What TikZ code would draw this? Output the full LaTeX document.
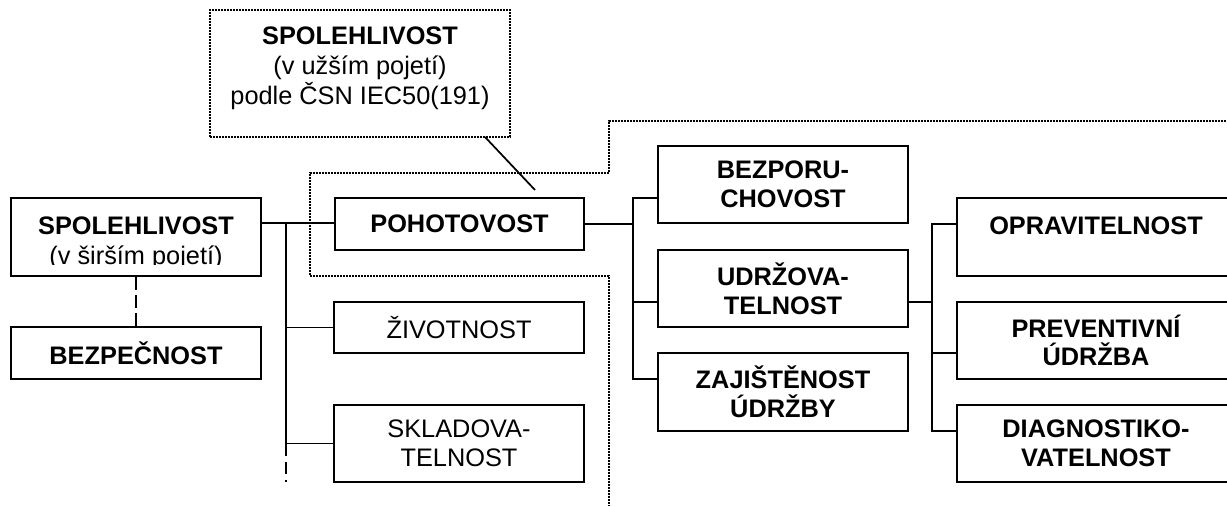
\documentclass[tikz,border=0pt]{standalone}
\usepackage{fontspec}
\setmainfont{Liberation Sans}
\begin{document}
\begin{tikzpicture}[x=0.75pt,y=-0.75pt,
  ln/.style={line width=1.4pt},
  bx/.style={draw,line width=1.4pt,rectangle,inner sep=0pt,font=\fontsize{19}{21.5}\selectfont\bfseries,align=center},
  bxr/.style={bx,font=\fontsize{19}{21.5}\selectfont},
  txt/.style={inner sep=0pt,align=center,font=\fontsize{19}{22.5}\selectfont},
  dotln/.style={line width=1.25pt,dash pattern=on 1.15pt off 1.1pt},
  dashln/.style={line width=1.4pt,dash pattern=on 9.5pt off 4pt}]
\useasboundingbox (0,0) rectangle (1227,506);
\clip (0,0) rectangle (1227,506);

% top dotted box
\node[draw,dotln,rectangle,minimum width=225pt,minimum height=95.25pt,inner sep=0pt] (top) at (360,73.5) {};
\node[txt] (topt) at (360,68.5) {\textbf{SPOLEHLIVOST}\\(v užším pojetí)\\podle ČSN IEC50(191)};

% left column
\node[bx,minimum width=187.5pt,minimum height=58.5pt] (sw) at (136,237) {};
\begin{scope}
\clip (11,198) rectangle (261,264);
\node[txt] (swt) at (136,243.5) {\textbf{SPOLEHLIVOST}\\(v širším pojetí)};
\end{scope}
\node[bx,minimum width=187.5pt,minimum height=39pt] (bez) at (136,353) {BEZPEČNOST};

% second column
\node[bx,minimum width=186.75pt,minimum height=39pt] (poh) at (459.5,224) {POHOTOVOST};
\node[bxr,minimum width=187.5pt,minimum height=38.25pt] (ziv) at (459,327.5) {ŽIVOTNOST};
\node[bxr,minimum width=187.5pt,minimum height=57.75pt] (skl) at (459,443.5) {SKLADOVA-\\TELNOST};

% third column
\node[bx,minimum width=187.5pt,minimum height=57.75pt] (bzp) at (783,184.5) {BEZPORU-\\CHOVOST};
\node[bx,minimum width=187.5pt,minimum height=57.75pt] (udr) at (783,288.5) {UDRŽOVA-\\TELNOST};
\node[bx,minimum width=187.5pt,minimum height=58.5pt] (zaj) at (783,392) {ZAJIŠTĚNOST\\ÚDRŽBY};

% fourth column
\node[bx,minimum width=208.5pt,minimum height=58.5pt] (opr) at (1096,237) {};
\node[bx,draw=none] (oprt) at (1096,226) {OPRAVITELNOST};
\node[bx,minimum width=208.5pt,minimum height=57.75pt] (pre) at (1096,340.5) {PREVENTIVNÍ\\ÚDRŽBA};
\node[bx,minimum width=208.5pt,minimum height=57.75pt] (dia) at (1096,443.5) {DIAGNOSTIKO-\\VATELNOST};

% connectors, level 1
\coordinate (s1) at (261,223);
\coordinate (t1) at (286,223);
\coordinate (p1) at (335,223);
\coordinate (t1e) at (286,482);
\draw[ln] (s1) -- (p1);
\draw[ln] (t1) |- (ziv.west);
\draw[ln] (t1) |- (skl.west);
\draw[dashln] (skl.west -| t1) -- (t1e);
\draw[dashln] (sw.south) -- (bez.north);

% connectors, level 2
\coordinate (t2) at (633,224);
\coordinate (b1) at (658,198);
\coordinate (u1) at (658,302);
\coordinate (z1) at (658,379);
\draw[ln] (poh.east) -- (t2);
\draw[ln] (b1) -| (t2) |- (z1);
\draw[ln] (t2 |- u1) -- (u1);

% connectors, level 3
\coordinate (u2) at (908,302);
\coordinate (t3) at (932,302);
\coordinate (o1) at (957,224);
\coordinate (r1) at (957,353);
\coordinate (d1) at (957,431);
\draw[ln] (u2) -- (t3);
\draw[ln] (o1) -| (t3) |- (d1);
\draw[ln] (t3 |- r1) -- (r1);

% pointer from top box
\coordinate (q1) at (485,137);
\coordinate (q2) at (535,190);
\draw[line width=1.3pt] (q1) -- (q2);

% dotted region border
\coordinate (r0) at (609,510);
\coordinate (ra) at (609,276);
\coordinate (rb) at (310,276);
\coordinate (rc) at (310,173);
\coordinate (rd) at (609,173);
\coordinate (re) at (609,121);
\coordinate (rf) at (1235,121);
\draw[dotln] (r0) -- (ra) -- (rb) -- (rc) -- (rd) -- (re) -- (rf);
\end{tikzpicture}
\end{document}
